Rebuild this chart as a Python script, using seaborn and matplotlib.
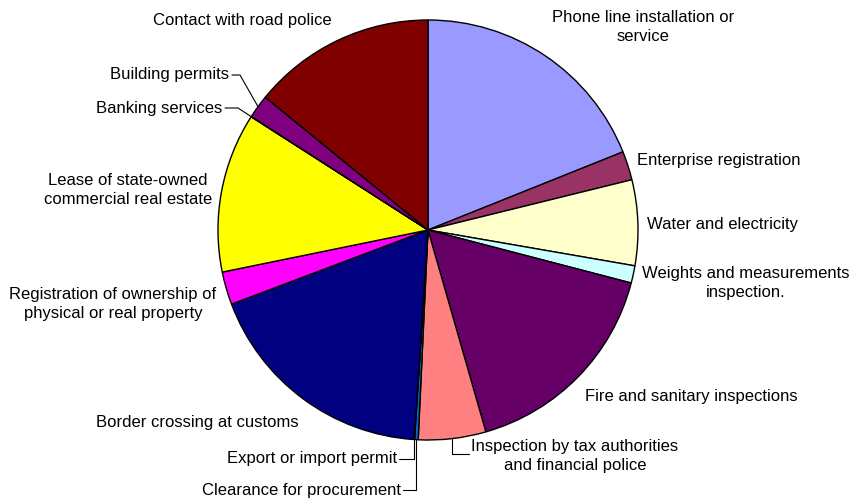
import numpy as np
import matplotlib
matplotlib.use('Agg')
import matplotlib.pyplot as plt
import seaborn as sns

sns.set_theme(style="white")
plt.rcParams['font.family'] = ['Liberation Sans', 'DejaVu Sans']

# --- DATA (share of firms, %, read clockwise from 12 o'clock) ---
categories = ['Phone line installation or\nservice', 'Enterprise registration', 'Water and electricity',
              'Weights and measurements\ninspection.', 'Fire and sanitary inspections',
              'Inspection by tax authorities\nand financial police', 'Clearance for procurement',
              'Export or import permit', 'Border crossing at customs',
              'Registration of ownership of\nphysical or real property',
              'Lease of state-owned\ncommercial real estate', 'Banking services', 'Building permits',
              'Contact with road police']
shares = [18.94, 2.22, 6.58, 1.33, 16.50, 5.19, 0.28, 0.02, 18.22, 2.53, 12.28, 0.02, 1.81, 14.11]
colors = ['#9999FF', '#993366', '#FFFFCC', '#CCFFFF', '#660066', '#FF8080', '#0066CC',
          '#CCCCFF', '#000080', '#FF00FF', '#FFFF00', '#00FFFF', '#800080', '#800000']

# label placement in pixels: (x, y, ha, leader start, elbow x or None -> wedge x)
W, H = 854, 501
label_pos = {
    0: (643, 27, 'center', None, None),
    1: (637, 160, 'left', None, None),
    2: (647, 224, 'left', None, None),
    3: (746, 283, 'center', None, None),
    4: (585, 397, 'left', None, None),
    5: (575, 456, 'center', (469, 454), None),
    6: (401, 490, 'right', (403, 490), None),
    7: (397, 459, 'right', (399, 459), None),
    8: (197, 423, 'center', None, None),
    9: (113, 304, 'center', None, None),
    10: (128, 190, 'center', None, None),
    11: (222, 108, 'right', (225, 108), 238),
    12: (229, 75, 'right', (232, 75), 240),
    13: (242, 21, 'center', None, None),
}

fig = plt.figure(figsize=(W / 100, H / 100), dpi=100)
ax = fig.add_axes([218 / W, (H - 440) / H, 420 / W, 420 / H])
wedges, _ = ax.pie(shares, colors=colors, startangle=90, counterclock=False, radius=1,
                   wedgeprops=dict(edgecolor='black', linewidth=1))
ax.set_xlim(-1, 1)
ax.set_ylim(-1, 1)
ax.axis('off')

def to_px(pt):
    x, y = ax.transData.transform(pt)
    return x, H - y

def fig_xy(x, y):
    return x / W, 1 - y / H

for i, (w, txt) in enumerate(zip(wedges, categories)):
    x, y, ha, start, elbow = label_pos[i]
    fig.text(*fig_xy(x, y), txt, ha=ha, va='center', fontsize=12, color='black', linespacing=1.4)
    if start is not None:
        mid = np.deg2rad((w.theta1 + w.theta2) / 2)
        axp, ayp = to_px((np.cos(mid), np.sin(mid)))
        ex = axp if elbow is None else elbow
        pts = [start, (ex, start[1]), (axp, ayp)]
        xs, ys = zip(*[fig_xy(px, py) for px, py in pts])
        fig.add_artist(plt.Line2D(xs, ys, color='black', linewidth=0.8, transform=fig.transFigure))

plt.savefig('out.png', dpi=100)
